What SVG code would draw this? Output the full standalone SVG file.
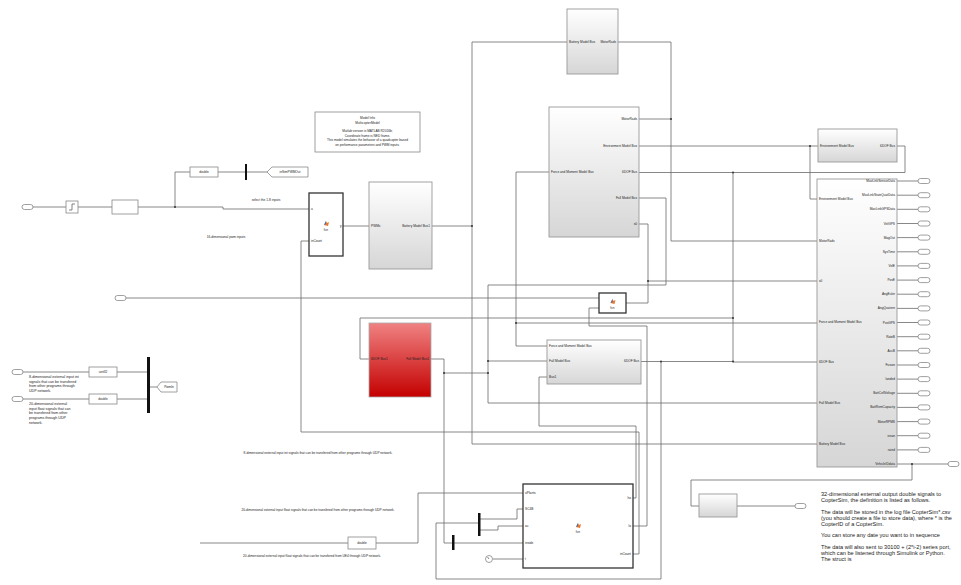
<svg xmlns="http://www.w3.org/2000/svg" width="961" height="585" viewBox="0 0 961 585">
<defs>
<linearGradient id="gg" x1="0" y1="0" x2="0" y2="1"><stop offset="0" stop-color="#ffffff"/><stop offset="1" stop-color="#d6d6d6"/></linearGradient>
<linearGradient id="rg" x1="0" y1="0" x2="0" y2="1"><stop offset="0" stop-color="#f08282"/><stop offset="1" stop-color="#c40000"/></linearGradient>
<g id="ico"><path d="M-2,1 L0,-3 L1,-1 L3,-2 L2,2 Z" fill="#e8772e"/><path d="M-2,1 L0,-3 L0,0 Z" fill="#3a6fc4"/></g>
</defs>
<style>
.w{stroke:#6a6a6a;stroke-width:0.8;fill:none}
.blk{stroke:#999;stroke-width:0.9;fill:url(#gg)}
.box{stroke:#888;stroke-width:0.8;fill:#fff}
.fcn{stroke:#333;stroke-width:1.3;fill:#fff}
.bar{fill:#111}
.port{stroke:#777;stroke-width:0.7;fill:#fff}
.t{font-family:"Liberation Sans",Arial,sans-serif;font-size:3.2px;fill:#222}
.s{font-family:"Liberation Sans",Arial,sans-serif;font-size:3.6px;fill:#222}
.n{font-family:"Liberation Sans",Arial,sans-serif;font-size:5.6px;fill:#222}
.dot{fill:#333}
</style>
<rect width="961" height="585" fill="#fff"/>

<g id="connectors">
<polyline class="w" points="33,207 66,207"/>
<polyline class="w" points="78,207 112,207"/>
<polyline class="w" points="138,207 223,207 223,209 309,209"/>
<polyline class="w" points="175,207 175,172 190,172"/>
<polyline class="w" points="218,172 245,172"/>
<polyline class="w" points="247,172 267,172"/>
<polyline class="w" points="343,226 369,226"/>
<polyline class="w" points="432,226 472,226"/>
<polyline class="w" points="567,42 472,42 472,444 817,444"/>
<polyline class="w" points="618,42 671,42 671,241 817,241"/>
<polyline class="w" points="639,119 671,119"/>
<polyline class="w" points="639,146 818,146"/>
<polyline class="w" points="810,146 810,199 817,199"/>
<polyline class="w" points="897,146 905,146 905,172.5 639,172.5"/>
<polyline class="w" points="733,172.5 733,362 817,362"/>
<polyline class="w" points="639,198 666,198 666,285 488,285 488,403 817,403"/>
<polyline class="w" points="488,361 547,361"/>
<polyline class="w" points="431,359 444,359 444,543 523,543"/>
<polyline class="w" points="444,373 488,373"/>
<polyline class="w" points="639,224 648,224 648,281 817,281"/>
<polyline class="w" points="626,303 648,303 648,281"/>
<polyline class="w" points="126,298 599,298"/>
<polyline class="w" points="599,308 589,308 589,326 647,326 647,526 633,526"/>
<polyline class="w" points="549,172 516,172 516,346 547,346"/>
<polyline class="w" points="516,323 817,323"/>
<polyline class="w" points="733,318 360,318 360,359 369,359"/>
<polyline class="w" points="641,361.5 733,361.5"/>
<polyline class="w" points="661,361.5 661,579 436,579 436,523 478,523"/>
<polyline class="w" points="480,519 517,519 517,509 523,509"/>
<polyline class="w" points="480,530 498,530 498,526 523,526"/>
<polyline class="w" points="200,543 348,543"/>
<polyline class="w" points="376,543 418,543 418,493 523,493"/>
<polyline class="w" points="633,498 636,498 636,426 539,426 539,377 547,377"/>
<polyline class="w" points="633,554 639,554 639,432 301,432 301,241 309,241"/>
<polyline class="w" points="493,559 523,559"/>
<polyline class="w" points="23,372 89,372"/>
<polyline class="w" points="117,372 147,372"/>
<polyline class="w" points="23,399 89,399"/>
<polyline class="w" points="117,399 147,399"/>
<polyline class="w" points="150,387 157,387"/>
<polyline class="w" points="912,464 912,480 691,480 691,506 699,506"/>
<polyline class="w" points="737,506 795,506"/>
<g class="w">
<line x1="897" y1="181" x2="918" y2="181"/><line x1="897" y1="195.2" x2="918" y2="195.2"/><line x1="897" y1="209.3" x2="918" y2="209.3"/><line x1="897" y1="223.5" x2="918" y2="223.5"/><line x1="897" y1="237.6" x2="918" y2="237.6"/><line x1="897" y1="251.8" x2="918" y2="251.8"/><line x1="897" y1="265.9" x2="918" y2="265.9"/><line x1="897" y1="280.1" x2="918" y2="280.1"/><line x1="897" y1="294.2" x2="918" y2="294.2"/><line x1="897" y1="308.4" x2="918" y2="308.4"/><line x1="897" y1="322.5" x2="918" y2="322.5"/><line x1="897" y1="336.7" x2="918" y2="336.7"/><line x1="897" y1="350.8" x2="918" y2="350.8"/><line x1="897" y1="365" x2="918" y2="365"/><line x1="897" y1="379.1" x2="918" y2="379.1"/><line x1="897" y1="393.3" x2="918" y2="393.3"/><line x1="897" y1="407.4" x2="918" y2="407.4"/><line x1="897" y1="421.6" x2="918" y2="421.6"/><line x1="897" y1="435.7" x2="918" y2="435.7"/><line x1="897" y1="449.9" x2="918" y2="449.9"/><line x1="897" y1="464" x2="948" y2="464"/>
</g>
<g class="dot">
<circle cx="175" cy="207" r="1"/><circle cx="472" cy="226" r="1"/><circle cx="671" cy="119" r="1"/><circle cx="810" cy="146" r="1"/><circle cx="733" cy="172.5" r="1"/><circle cx="733" cy="318" r="1"/><circle cx="733" cy="361.5" r="1"/><circle cx="661" cy="361.5" r="1"/><circle cx="648" cy="281" r="1"/><circle cx="488" cy="361" r="1"/><circle cx="488" cy="373" r="1"/><circle cx="444" cy="373" r="1"/><circle cx="516" cy="323" r="1"/><circle cx="912" cy="464" r="1"/>
</g>
</g>

<g id="in1"><rect class="port" x="22" y="204.5" width="11" height="5" rx="2.5"/></g>
<g id="step"><rect class="box" x="66" y="201" width="12" height="12"/><path d="M69,210 H72 V204 H75" stroke="#333" stroke-width="0.6" fill="none"/></g>
<g id="blank1"><rect class="box" x="112" y="200" width="26" height="14"/></g>
<g id="conv1"><rect class="box" x="190" y="167" width="28" height="10"/><text class="t" x="204" y="173" text-anchor="middle">double</text></g>
<g id="bar1"><rect class="bar" x="245" y="164" width="2" height="16"/></g>
<g id="goto1"><path class="box" d="M267,172 L272,167 H308 V177 H272 Z"/><text class="t" x="290" y="173.2" text-anchor="middle">inSimPWMOut</text></g>
<g id="note1"><text class="t" x="266" y="201" text-anchor="middle">select the 1-8 inputs</text></g>
<g id="note2"><text class="t" x="226" y="238" text-anchor="middle">16-dimensional pwm inputs</text></g>

<g id="fcnTop"><rect class="fcn" x="309" y="193" width="34" height="63"/><text class="t" x="311" y="210">u</text><text class="t" x="311" y="242">inCount</text><text class="t" x="340" y="227">y</text><use href="#ico" x="326" y="224"/><text class="t" x="326" y="231" text-anchor="middle" font-size="2.6">fcn</text></g>

<g id="modelInfo"><rect class="box" x="315" y="112" width="105" height="40"/>
<text class="t" text-anchor="middle"><tspan x="367.5" y="119">Model Info</tspan><tspan x="367.5" y="123.5">MulticopterModel</tspan><tspan x="367.5" y="132">Matlab version is MATLAB R2016b;</tspan><tspan x="367.5" y="136.5">Coordinate frame is NED frame.</tspan><tspan x="367.5" y="141">This model  simulates the behavior of a quadcopter based</tspan><tspan x="367.5" y="145.5">on performance parameters and PWM inputs.</tspan></text></g>

<g id="motorModel"><rect class="blk" x="369" y="182" width="63" height="87"/><text class="t" x="371" y="227">PWMs</text><text class="t" x="430" y="227" text-anchor="end">Battery Model Bus1</text></g>

<g id="battery"><rect class="blk" x="567" y="9" width="51" height="65"/><text class="t" x="569" y="43">Battery Model Bus</text><text class="t" x="616" y="43" text-anchor="end">MotorRads</text></g>

<g id="sixdof"><rect class="blk" x="549" y="107" width="90" height="130"/><text class="t" x="551" y="173">Force and Moment Model Bus</text>
<g text-anchor="end"><text class="t" x="637" y="120">MotorRads</text><text class="t" x="637" y="147">Environment Model Bus</text><text class="t" x="637" y="173">6DOF Bus</text><text class="t" x="637" y="199">Fall Model Bus</text><text class="t" x="637" y="225">s0</text></g></g>

<g id="envModel"><rect class="blk" x="818" y="129" width="79" height="33"/><text class="t" x="820" y="147">Environment Model Bus</text><text class="t" x="895" y="147" text-anchor="end">6DOF Bus</text></g>

<g id="outModel"><rect class="blk" x="817" y="179" width="80" height="288"/>
<text class="t" x="819" y="200">Environment Model Bus</text><text class="t" x="819" y="242">MotorRads</text><text class="t" x="819" y="282">x0</text><text class="t" x="819" y="323">Force and Moment Model Bus</text><text class="t" x="819" y="363">6DOF Bus</text><text class="t" x="819" y="404">Fall Model Bus</text><text class="t" x="819" y="445">Battery Model Bus</text>
<g text-anchor="end">
<text class="t" x="895" y="182">MavLinkSensorData</text><text class="t" x="895" y="196.2">MavLinkStateQuatData</text><text class="t" x="895" y="210.3">MavLinkGPSData</text><text class="t" x="895" y="224.5">VelGPS</text><text class="t" x="895" y="238.6">MagOut</text><text class="t" x="895" y="252.8">SysTime</text><text class="t" x="895" y="266.9">VelE</text><text class="t" x="895" y="281.1">PosE</text><text class="t" x="895" y="295.2">AngEuler</text><text class="t" x="895" y="309.4">AngQuatern</text><text class="t" x="895" y="323.5">PosGPS</text><text class="t" x="895" y="337.7">RateB</text><text class="t" x="895" y="351.8">AccB</text><text class="t" x="895" y="366">Fusion</text><text class="t" x="895" y="380.1">landed</text><text class="t" x="895" y="394.3">BattCellVoltage</text><text class="t" x="895" y="408.4">BattRemCapacity</text><text class="t" x="895" y="422.6">MotorRPMS</text><text class="t" x="895" y="436.7">isnan</text><text class="t" x="895" y="450.9">rated</text><text class="t" x="895" y="465">VehicleIDdata</text></g></g>

<g id="outPorts">
<rect class="port" x="918" y="178.5" width="12" height="5" rx="2.5"/><rect class="port" x="918" y="192.7" width="12" height="5" rx="2.5"/><rect class="port" x="918" y="206.8" width="12" height="5" rx="2.5"/><rect class="port" x="918" y="221" width="12" height="5" rx="2.5"/><rect class="port" x="918" y="235.1" width="12" height="5" rx="2.5"/><rect class="port" x="918" y="249.3" width="12" height="5" rx="2.5"/><rect class="port" x="918" y="263.4" width="12" height="5" rx="2.5"/><rect class="port" x="918" y="277.6" width="12" height="5" rx="2.5"/><rect class="port" x="918" y="291.7" width="12" height="5" rx="2.5"/><rect class="port" x="918" y="305.9" width="12" height="5" rx="2.5"/><rect class="port" x="918" y="320" width="12" height="5" rx="2.5"/><rect class="port" x="918" y="334.2" width="12" height="5" rx="2.5"/><rect class="port" x="918" y="348.3" width="12" height="5" rx="2.5"/><rect class="port" x="918" y="362.5" width="12" height="5" rx="2.5"/><rect class="port" x="918" y="376.6" width="12" height="5" rx="2.5"/><rect class="port" x="918" y="390.8" width="12" height="5" rx="2.5"/><rect class="port" x="918" y="404.9" width="12" height="5" rx="2.5"/><rect class="port" x="918" y="419.1" width="12" height="5" rx="2.5"/><rect class="port" x="918" y="433.2" width="12" height="5" rx="2.5"/><rect class="port" x="918" y="447.4" width="12" height="5" rx="2.5"/><rect class="port" x="948" y="461.5" width="11" height="5" rx="2.5"/>
</g>

<g id="in2"><rect class="port" x="115" y="295.5" width="11" height="5" rx="2.5"/></g>
<g id="fcnMid"><rect class="fcn" x="599" y="293" width="27" height="20"/><use href="#ico" x="612.5" y="302"/><text class="t" x="612.5" y="309" text-anchor="middle" font-size="2.6">fcn</text></g>

<g id="fallModel"><rect x="369" y="323" width="62" height="74" fill="url(#rg)" stroke="#aaa" stroke-width="0.8"/><text class="t" x="371" y="360">6DOF Bus1</text><text class="t" x="429" y="360" text-anchor="end">Fall Model Bus1</text></g>

<g id="forceModel"><rect class="blk" x="547" y="340" width="94" height="44"/><text class="t" x="549" y="347">Force and Moment Model Bus</text><text class="t" x="549" y="362">Fall Model Bus</text><text class="t" x="549" y="378">Bus1</text><text class="t" x="639" y="362" text-anchor="end">6DOF Bus</text></g>

<g id="inL1"><rect class="port" x="12" y="369.5" width="11" height="5" rx="2.5"/></g>
<g id="inL2"><rect class="port" x="12" y="396.5" width="11" height="5" rx="2.5"/></g>
<g id="convL1"><rect class="box" x="89" y="367" width="28" height="10"/><text class="t" x="103" y="373" text-anchor="middle">uint32</text></g>
<g id="convL2"><rect class="box" x="89" y="394" width="28" height="10"/><text class="t" x="103" y="400" text-anchor="middle">double</text></g>
<g id="barL"><rect class="bar" x="147" y="357" width="3" height="56"/></g>
<g id="gotoL"><path class="box" d="M157,387 L161,382 H177 V392 H161 Z"/><text class="t" x="169" y="388.2" text-anchor="middle">PwmIn</text></g>
<g id="noteL1"><text class="s"><tspan x="29" y="378">8-dimensional external input int</tspan><tspan x="29" y="382.7">signals that can be transfered</tspan><tspan x="29" y="387.4">from other programs through</tspan><tspan x="29" y="392.1">UDP network.</tspan></text></g>
<g id="noteL2"><text class="s"><tspan x="29" y="405">20-dimensional external</tspan><tspan x="29" y="409.7">input float signals that can</tspan><tspan x="29" y="414.4">be transfered from other</tspan><tspan x="29" y="419.1">programs through UDP</tspan><tspan x="29" y="423.8">network.</tspan></text></g>

<g id="noteB1"><text class="t" x="318" y="454" text-anchor="middle">8-dimensional external input int signals that can be transfered from other programs through UDP network.</text></g>
<g id="noteB2"><text class="t" x="318" y="511" text-anchor="middle">20-dimensional external input float signals that can be transfered from other programs through UDP network.</text></g>
<g id="noteB3"><text class="t" x="312" y="557" text-anchor="middle">20-dimensional external input float signals that can be transfered from UE4 through UDP network.</text></g>
<g id="convB"><rect class="box" x="348" y="537" width="28" height="12"/><text class="t" x="362" y="544" text-anchor="middle">double</text></g>
<g id="barB1"><rect class="bar" x="478" y="513" width="2.5" height="23"/></g>
<g id="barB2"><rect class="bar" x="452" y="535" width="2.5" height="15"/></g>
<g id="clock"><circle cx="489" cy="559" r="3.5" fill="#fff" stroke="#777" stroke-width="0.7"/><path d="M489,559 L487.5,557" stroke="#333" stroke-width="0.6"/></g>
<g id="fcnBottom"><rect class="fcn" x="523" y="484" width="110" height="84"/>
<text class="t" x="525" y="494">uPlants</text><text class="t" x="525" y="510">SC4B</text><text class="t" x="525" y="527">xu</text><text class="t" x="525" y="544">inside</text><text class="t" x="525" y="560">t</text>
<text class="t" x="631" y="499" text-anchor="end">ho</text><text class="t" x="631" y="527" text-anchor="end">lo</text><text class="t" x="631" y="555" text-anchor="end">inCount</text>
<use href="#ico" x="578" y="526"/><text class="t" x="578" y="533" text-anchor="middle" font-size="2.6">fcn</text></g>

<g id="outBlk"><rect class="blk" x="699" y="494" width="38" height="23"/></g>
<g id="outPort"><rect class="port" x="795" y="503.5" width="11" height="5" rx="2.5"/></g>
<g id="noteR"><text class="n"><tspan x="821" y="496">32-dimensional external output double signals to</tspan><tspan x="821" y="502">CopterSim, the definition is listed as follows.</tspan><tspan x="821" y="513.5">The data will be stored in the log file CopterSim*.csv</tspan><tspan x="821" y="519.5">(you should create a file to store data), where * is the</tspan><tspan x="821" y="525.5">CopterID of a CopterSim.</tspan><tspan x="821" y="537">You can store any date you want to in sequence</tspan><tspan x="821" y="548.5">The data will also sent to 30100 + (2*i-2) series port,</tspan><tspan x="821" y="554.5">which can be listened through Simulink or Python.</tspan><tspan x="821" y="560.5">The struct is</tspan></text></g>
</svg>
